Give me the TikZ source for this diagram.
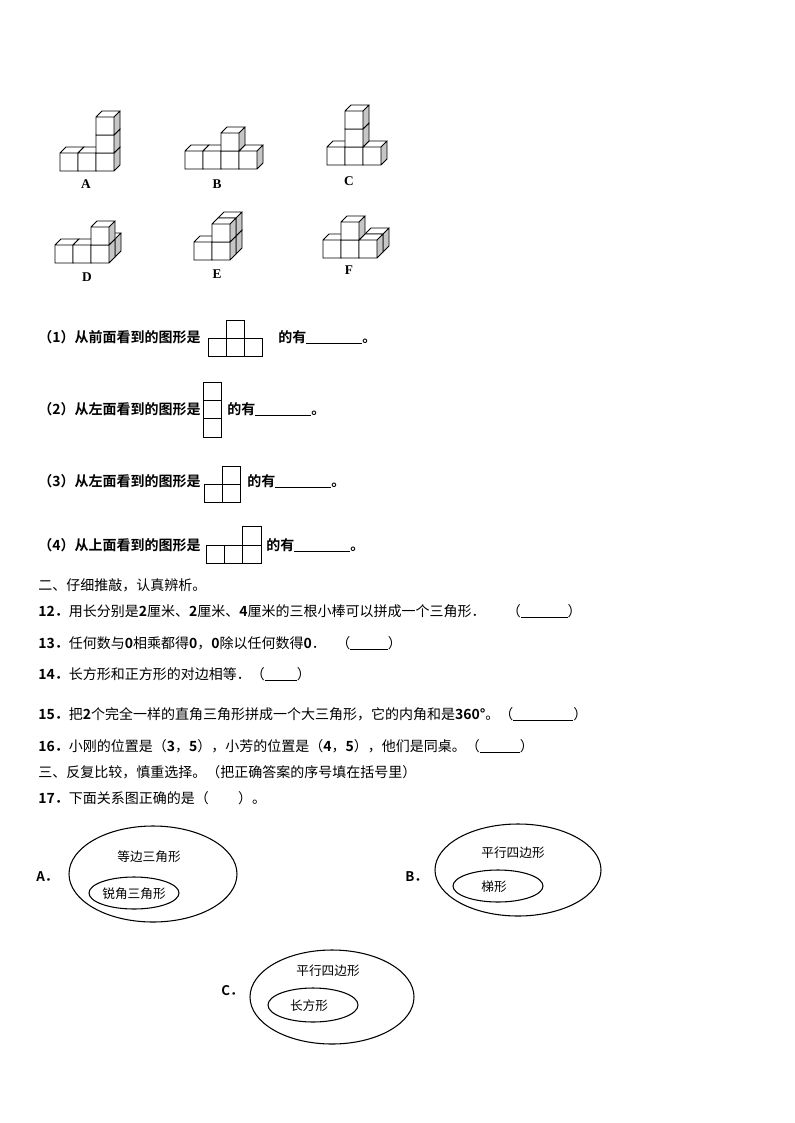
\documentclass[tikz,border=0pt]{standalone}
\usepackage{fontspec}
\newfontfamily\cjk{Noto Sans CJK SC}[BoldFont={Noto Sans CJK SC Bold}]
\setmainfont{Liberation Serif}
\begin{document}
\begin{tikzpicture}[x=0.75pt,y=-0.75pt,
  lab/.style={font=\bfseries\fontsize{10}{12}\selectfont},
  txt/.style={anchor=west,inner sep=0,font=\cjk\fontsize{10.5}{12}\selectfont},
  stxt/.style={anchor=center,inner sep=0,font=\cjk\fontsize{9.5}{11}\selectfont},
  fig/.style={draw,line width=0.6pt}]
\useasboundingbox (0,0) rectangle (794,1123);
\newcommand{\cb}[2]{% lower-left of front face at (#1,#2), size 18, depth 6
 \fill[white] (#1,#2) rectangle ++(18,-18);
 \fill[gray!45] (#1+18,#2) -- ++(6,-6) -- ++(0,-18) -- ++(-6,6) -- cycle;
 \fill[white] (#1,#2-18) -- ++(6,-6) -- ++(18,0) -- ++(-6,6) -- cycle;
 \draw[line width=0.6pt] (#1,#2) rectangle ++(18,-18)
   (#1,#2-18) -- ++(6,-6) -- ++(18,0) -- ++(-6,6)
   (#1+18,#2) -- ++(6,-6) -- ++(0,-18);}
% A
\cb{60}{171}\cb{78}{171}\cb{96}{171}\cb{96}{153}\cb{96}{135}
\node[lab] (la) at (86,184) {A};
% B
\cb{185}{169}\cb{203}{169}\cb{221}{169}\cb{239}{169}\cb{221}{151}
\node[lab] (lb) at (217,184) {B};
% C
\cb{327}{165}\cb{345}{165}\cb{363}{165}\cb{345}{147}\cb{345}{129}
\node[lab] (lc) at (349,181) {C};
% D
\cb{97}{257}\cb{55}{263}\cb{73}{263}\cb{91}{263}\cb{91}{245}
\node[lab] (ld) at (87,277) {D};
% E
\cb{218}{254}\cb{218}{236}\cb{194}{260}\cb{212}{260}\cb{212}{242}
\node[lab] (le) at (217,274) {E};
% F
\cb{365}{252}\cb{323}{258}\cb{341}{258}\cb{359}{258}\cb{341}{240}
\node[lab] (lf) at (349,270) {F};
% questions
\node[txt] (q1) at (38,337) {\bfseries（1）从前面看到的图形是};
\draw[fig] (208,338) rectangle (262,356) (226,338)--(226,356) (244,338)--(244,356) (226,338)--(226,320)--(244,320)--(244,338);
\node[txt] (q1b) at (278,337) {\bfseries 的有\rule[-1pt]{42pt}{0.5pt}。};
\node[txt] (q2) at (38,409) {\bfseries（2）从左面看到的图形是};
\draw[fig] (203,382) rectangle (221,437) (203,400)--(221,400) (203,418)--(221,418);
\node[txt] (q2b) at (227,409) {\bfseries 的有\rule[-1pt]{42pt}{0.5pt}。};
\node[txt] (q3) at (38,481) {\bfseries（3）从左面看到的图形是};
\draw[fig] (204,484) rectangle (240,502) (222,484)--(222,502) (222,484)--(222,466)--(240,466)--(240,484);
\node[txt] (q3b) at (247,481) {\bfseries 的有\rule[-1pt]{42pt}{0.5pt}。};
\node[txt] (q4) at (38,545) {\bfseries（4）从上面看到的图形是};
\draw[fig] (206,545) rectangle (261,563) (224,545)--(224,563) (242,545)--(242,563) (242,545)--(242,526)--(261,526)--(261,545);
\node[txt] (q4b) at (266,545) {\bfseries 的有\rule[-1pt]{42pt}{0.5pt}。};
\node[txt] (s2) at (38,585) {二、仔细推敲，认真辨析。};
\node[txt] (t12) at (38,611) {\textbf{12．}用长分别是\textbf{2}厘米、\textbf{2}厘米、\textbf{4}厘米的三根小棒可以拼成一个三角形．\hspace{16pt}（\rule[-1pt]{35pt}{0.5pt}）};
\node[txt] (t13) at (38,643) {\textbf{13．}任何数与\textbf{0}相乘都得\textbf{0}，\textbf{0}除以任何数得\textbf{0}．\hspace{8pt}（\rule[-1pt]{28pt}{0.5pt}）};
\node[txt] (t14) at (38,674) {\textbf{14．}长方形和正方形的对边相等．（\rule[-1pt]{24pt}{0.5pt}）};
\node[txt] (t15) at (38,714) {\textbf{15．}把\textbf{2}个完全一样的直角三角形拼成一个大三角形，它的内角和是\textbf{360°}。（\rule[-1pt]{45pt}{0.5pt}）};
\node[txt] (t16) at (38,746) {\textbf{16．}小刚的位置是（\textbf{3}，\textbf{5}），小芳的位置是（\textbf{4}，\textbf{5}），他们是同桌。（\rule[-1pt]{30pt}{0.5pt}）};
\node[txt] (s3) at (38,772) {三、反复比较，慎重选择。（把正确答案的序号填在括号里）};
\node[txt] (t17) at (38,798) {\textbf{17．}下面关系图正确的是（\hspace{22pt}）。};
% ellipses
\tikzset{ell/.style={draw,line width=0.8pt}}
\draw[ell] (153,874) ellipse [x radius=84,y radius=48];
\draw[ell] (134,893) ellipse [x radius=45,y radius=16];
\node[stxt] (ea) at (149,857) {等边三角形};
\node[stxt] (eai) at (134,894) {锐角三角形};
\node[txt,font=\cjk\bfseries\fontsize{10}{12}\selectfont] (oa) at (36,877) {A．};
\draw[ell] (518,870) ellipse [x radius=83,y radius=46];
\draw[ell] (498,886) ellipse [x radius=45,y radius=16];
\node[stxt] (eb) at (513,853) {平行四边形};
\node[stxt] (ebi) at (494,887) {梯形};
\node[txt,font=\cjk\bfseries\fontsize{10}{12}\selectfont] (ob) at (405,877) {B．};
\draw[ell] (332,997) ellipse [x radius=82,y radius=47];
\draw[ell] (313,1005) ellipse [x radius=45,y radius=17];
\node[stxt] (ec) at (328,971) {平行四边形};
\node[stxt] (eci) at (309,1006) {长方形};
\node[txt,font=\cjk\bfseries\fontsize{10}{12}\selectfont] (oc) at (221,991) {C．};
\end{tikzpicture}
\end{document}
